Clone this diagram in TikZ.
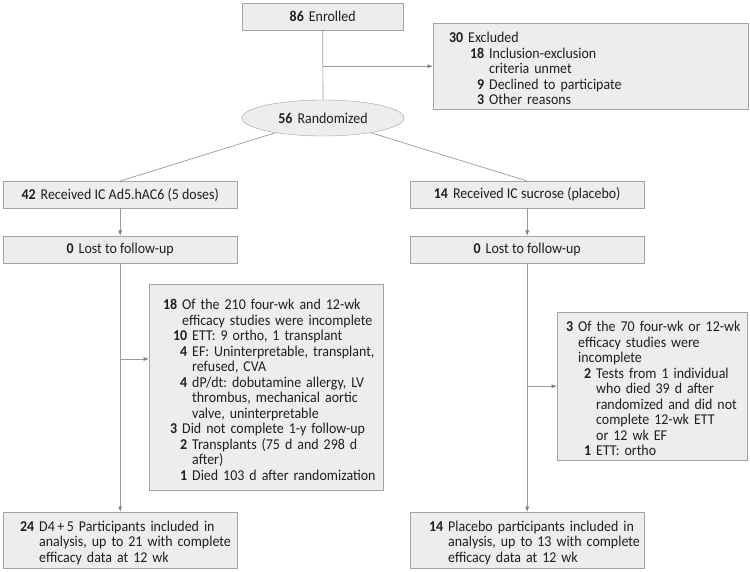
\documentclass[tikz,border=0pt]{standalone}
\usepackage{fontspec}
\setmainfont{Carlito}[FakeStretch=0.93]
\usetikzlibrary{arrows.meta,shapes.geometric}
\definecolor{boxfill}{HTML}{EDEDED}
\definecolor{boxline}{HTML}{A3A3A3}
\definecolor{flowline}{HTML}{9A9A9A}
% numbered line: #1 = right edge of the number, #2 = number, #3 = text
\newcommand{\nr}[3]{\par\raggedright\frenchspacing\hyphenpenalty=10000\noindent
  \hangindent=\dimexpr#1+5pt\relax\hangafter=1%
  \makebox[#1][r]{\textbf{#2}}\hspace{5pt}#3\par}
\tikzset{
  box/.style={draw=boxline,fill=boxfill,anchor=north west,inner sep=0pt,
    minimum height=27pt,text width=#1,align=left},
  cbox/.style={draw=boxline,fill=boxfill,anchor=north west,inner sep=0pt,
    minimum height=27pt,minimum width=234pt,align=center},
  flow/.style={draw=flowline,line width=0.7pt},
  arr/.style={flow,-{Latex[length=5.5pt,width=4pt,color=gray]}}
}
\begin{document}
\begin{tikzpicture}[x=1pt,y=-1pt,font=\fontsize{15}{15.5}\selectfont,text=black!88]
        \useasboundingbox (0,0) rectangle (750,572);
        % top part
        \node[cbox,minimum width=161pt] (enr) at (242,3) {\textbf{86}\hspace{5pt}Enrolled};
        \node[box=315pt,minimum height=86pt] (excl) at (433,23) {%
          \nr{30pt}{30}{Excluded}
          \nr{51pt}{18}{Inclusion-exclusion\newline criteria unmet}
          \nr{51pt}{9}{Declined to participate}
          \nr{51pt}{3}{Other reasons}};
        \node[ellipse,draw=boxline,fill=boxfill,minimum width=162pt,minimum height=36pt,inner sep=0pt]
          (rand) at (323,118) {\textbf{56}\hspace{5pt}Randomized};
        % treatment arm
        \node[cbox] (trt) at (3,181) {\textbf{42}\hspace{5pt}Received IC Ad5.hAC6 (5 doses)};
        \node[cbox] (lostA) at (3,236) {\textbf{0}\hspace{5pt}Lost to follow-up};
        \node[box=234pt,minimum height=206pt] (exA) at (149,284) {%
          \nr{28pt}{18}{Of the 210 four-wk and 12-wk\newline efficacy studies were incomplete}
          \nr{38pt}{10}{ETT: 9 ortho, 1 transplant}
          \nr{38pt}{4}{EF: Uninterpretable, transplant,\newline refused, CVA}
          \nr{38pt}{4}{dP/dt: dobutamine allergy, LV\newline thrombus, mechanical aortic\newline valve, uninterpretable}
          \nr{28pt}{3}{Did not complete 1-y follow-up}
          \nr{38pt}{2}{Transplants (75 d and 298 d\newline after)}
          \nr{38pt}{1}{Died 103 d after randomization}};
        \node[box=234pt,minimum height=56pt] (anaA) at (3,512) {%
          \nr{31pt}{24}{D4\,+\,5 Participants included in\newline analysis, up to 21 with complete\newline efficacy data at 12 wk}};
        % placebo arm
        \node[cbox] (plc) at (410,181) {\textbf{14}\hspace{5pt}Received IC sucrose (placebo)};
        \node[cbox] (lostB) at (410,236) {\textbf{0}\hspace{5pt}Lost to follow-up};
        \node[box=190pt,minimum height=148pt] (exB) at (557,312) {%
          \nr{16pt}{3}{Of the 70 four-wk or 12-wk\newline efficacy studies were\newline incomplete}
          \nr{34pt}{2}{Tests from 1 individual\newline who died 39 d after\newline randomized and did not\newline complete 12-wk ETT\newline or 12 wk EF}
          \nr{34pt}{1}{ETT: ortho}};
        \node[box=234pt,minimum height=56pt] (anaB) at (410,512) {%
          \nr{33pt}{14}{Placebo participants included in\newline analysis, up to 13 with complete\newline efficacy data at 12 wk}};
        % connectors
        \draw[flow] (enr) -- (rand);
        \draw[arr] (enr.south |- excl.west) -- (excl.west);
        \draw[flow] (rand) -- (trt.north);
        \draw[flow] (rand) -- (plc.north);
        \draw[arr] (trt) -- (lostA);
        \draw[arr] (lostA) -- (anaA);
        \coordinate (jA) at (120,359);
        \draw[arr] (jA) -- (jA -| exA.west);
        \draw[arr] (plc) -- (lostB);
        \draw[arr] (lostB) -- (anaB);
        \draw[arr] (lostB.south |- exB.west) -- (exB.west);
      \end{tikzpicture}
\end{document}
